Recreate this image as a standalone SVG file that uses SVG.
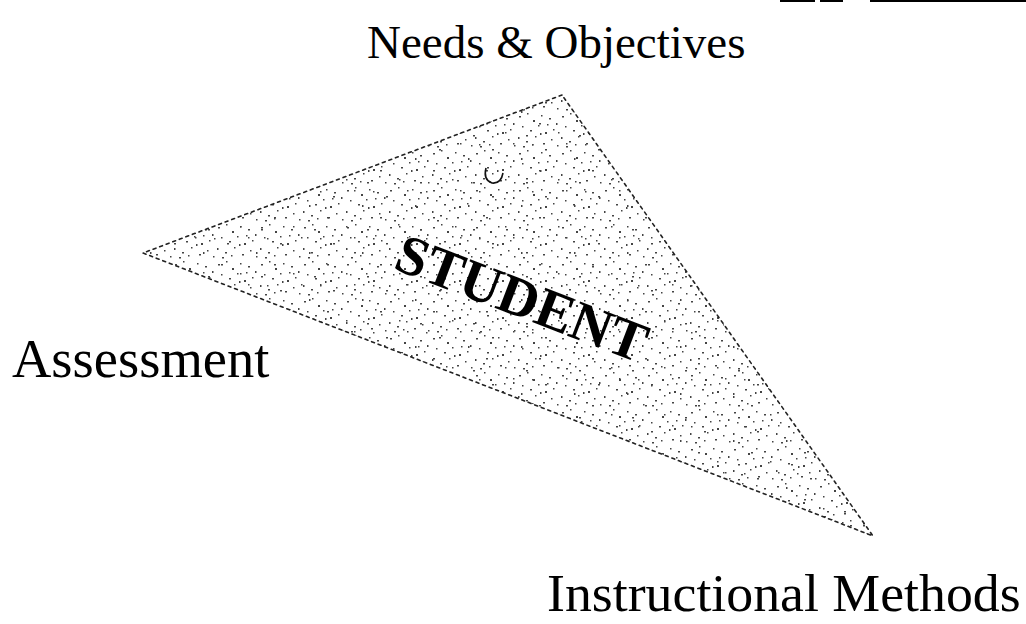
<svg xmlns="http://www.w3.org/2000/svg" width="1026" height="624" viewBox="0 0 1026 624">
<style>
.lbl{font-family:"Liberation Serif","Times New Roman",serif;fill:#000;}
.edge{fill:none;stroke:#222;stroke-width:1.6;stroke-dasharray:3 4;stroke-linecap:round;}
.dot{fill:#444;}
</style>
<defs>
<pattern id="stA" width="43" height="37" patternUnits="userSpaceOnUse">
<g class="dot">
<rect x="3" y="5" width="2" height="1.5"/><rect x="11" y="2" width="1.5" height="1.5"/><rect x="17" y="9" width="2" height="2"/>
<rect x="25" y="4" width="1.5" height="1.5"/><rect x="33" y="7" width="2" height="1.5"/><rect x="40" y="12" width="1.5" height="2"/>
<rect x="6" y="15" width="1.5" height="1.5"/><rect x="14" y="19" width="2" height="1.5"/><rect x="22" y="14" width="1.5" height="1.5"/>
<rect x="29" y="21" width="2" height="2"/><rect x="37" y="18" width="1.5" height="1.5"/><rect x="2" y="26" width="1.5" height="2"/>
<rect x="10" y="30" width="2" height="1.5"/><rect x="19" y="25" width="1.5" height="1.5"/><rect x="27" y="32" width="2" height="1.5"/>
<rect x="35" y="28" width="1.5" height="1.5"/><rect x="41" y="34" width="1.5" height="1.5"/><rect x="7" y="35" width="2" height="1.5"/>
<rect x="16" y="33" width="1.5" height="1.5"/><rect x="24" y="22" width="1.5" height="2"/><rect x="31" y="13" width="1.5" height="1.5"/>
</g>
</pattern>
<pattern id="stB" width="53" height="47" patternUnits="userSpaceOnUse">
<g class="dot">
<rect x="2" y="3" width="1.5" height="1.5"/><rect x="15" y="8" width="2" height="1.5"/><rect x="36" y="2" width="1.5" height="1.5"/>
<rect x="44" y="17" width="1.5" height="2"/><rect x="9" y="29" width="2" height="1.5"/>
<rect x="28" y="38" width="1.5" height="1.5"/><rect x="49" y="41" width="2" height="1.5"/>
</g>
</pattern>
</defs>
<rect width="1026" height="624" fill="#fff"/>
<g id="topbars" fill="#000">
<rect x="780" y="0" width="35" height="2"/><rect x="820" y="0" width="23" height="2"/><rect x="870" y="0" width="156" height="2"/>
</g>
<g id="triangle">
<polygon points="562,95 143,253 873,536" fill="url(#stA)"/>
<polygon points="562,95 143,253 873,536" fill="url(#stB)"/>
<path d="M486,168 q-3,12 6,15 q9,1 11,-10" fill="none" stroke="#111" stroke-width="1.6"/>
</g>
<g id="connectors">
<polygon class="edge" points="562,95 143,253 873,536"/>
</g>
<g id="student">
<text class="lbl" transform="translate(522,298) rotate(21)" x="0" y="19" text-anchor="middle" font-size="56" font-weight="bold">STUDENT</text>
</g>
<g id="needs">
<text class="lbl" x="367" y="58" font-size="47">Needs &amp; Objectives</text>
</g>
<g id="assessment">
<text class="lbl" x="12" y="377" font-size="54.5">Assessment</text>
</g>
<g id="methods">
<text class="lbl" x="547" y="611" font-size="53.8">Instructional Methods</text>
</g>
</svg>
